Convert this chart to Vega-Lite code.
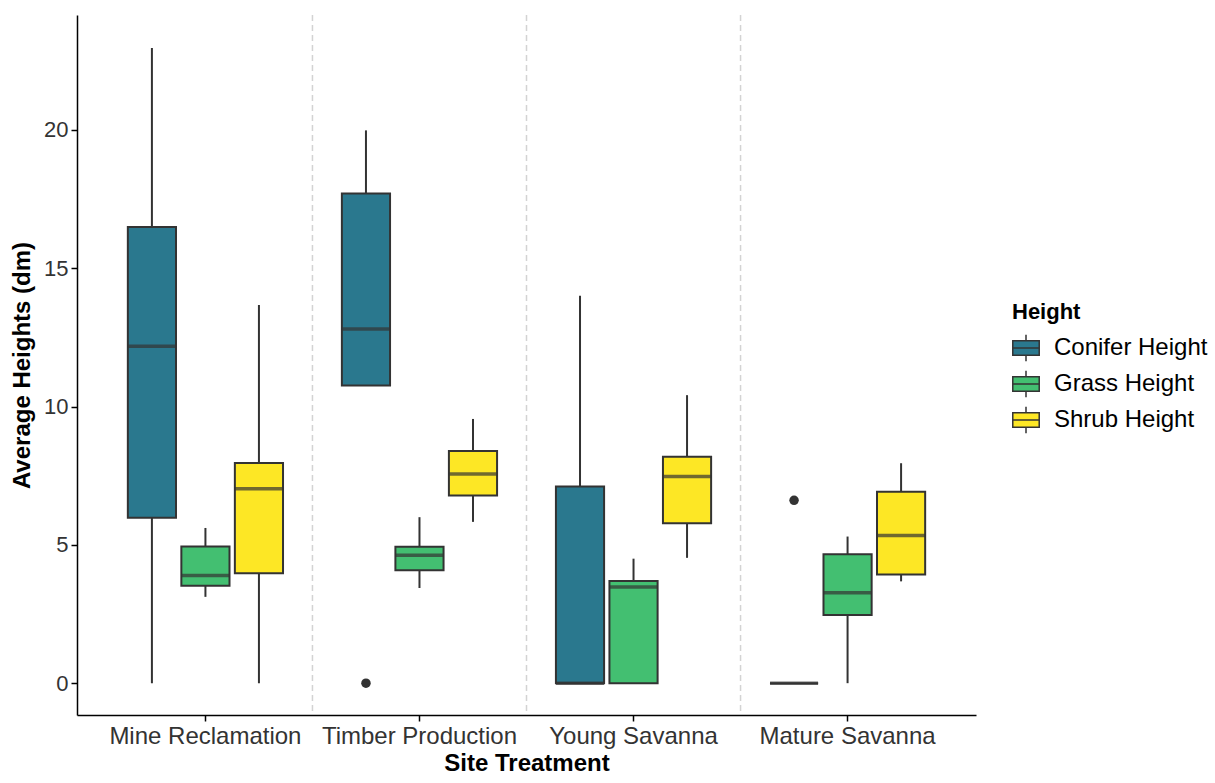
{
  "$schema": "https://vega.github.io/schema/vega-lite/v6.json",
  "width": 899,
  "height": 700,
  "autosize": {"type": "none"},
  "padding": {"left": 77, "top": 15, "right": 239, "bottom": 68},
  "config": {"view": {"stroke": null}, "font": "Liberation Sans"},
  "datasets": {
    "boxes": [
      {"site": "Mine Reclamation", "type": "Conifer Height", "lo": 0, "q1": 5.98, "med": 12.18, "q3": 16.49, "hi": 22.96},
      {"site": "Mine Reclamation", "type": "Grass Height", "lo": 3.12, "q1": 3.52, "med": 3.89, "q3": 4.94, "hi": 5.61},
      {"site": "Mine Reclamation", "type": "Shrub Height", "lo": 0, "q1": 3.97, "med": 7.03, "q3": 7.96, "hi": 13.67},
      {"site": "Timber Production", "type": "Conifer Height", "lo": 10.76, "q1": 10.76, "med": 12.8, "q3": 17.7, "hi": 19.98},
      {"site": "Timber Production", "type": "Grass Height", "lo": 3.44, "q1": 4.08, "med": 4.62, "q3": 4.93, "hi": 6.0},
      {"site": "Timber Production", "type": "Shrub Height", "lo": 5.83, "q1": 6.78, "med": 7.56, "q3": 8.39, "hi": 9.55},
      {"site": "Young Savanna", "type": "Conifer Height", "lo": 0, "q1": 0, "med": 0, "q3": 7.11, "hi": 14.0},
      {"site": "Young Savanna", "type": "Grass Height", "lo": 0, "q1": 0, "med": 3.48, "q3": 3.69, "hi": 4.5},
      {"site": "Young Savanna", "type": "Shrub Height", "lo": 4.53, "q1": 5.78, "med": 7.47, "q3": 8.18, "hi": 10.41},
      {"site": "Mature Savanna", "type": "Conifer Height", "lo": 0, "q1": 0, "med": 0, "q3": 0, "hi": 0},
      {"site": "Mature Savanna", "type": "Grass Height", "lo": 0, "q1": 2.46, "med": 3.27, "q3": 4.66, "hi": 5.3},
      {"site": "Mature Savanna", "type": "Shrub Height", "lo": 3.68, "q1": 3.93, "med": 5.34, "q3": 6.92, "hi": 7.95}
    ],
    "outliers": [
      {"site": "Timber Production", "type": "Conifer Height", "value": 0},
      {"site": "Mature Savanna", "type": "Conifer Height", "value": 6.61}
    ],
    "separators": [
      {"site": "Timber Production"},
      {"site": "Young Savanna"},
      {"site": "Mature Savanna"}
    ]
  },
  "encoding": {
    "x": {
      "field": "site",
      "type": "nominal",
      "scale": {"domain": ["Mine Reclamation", "Timber Production", "Young Savanna", "Mature Savanna"], "paddingInner": 0, "paddingOuter": 0.1},
      "axis": {
        "title": "Site Treatment",
        "titleFontSize": 24,
        "titleFontWeight": "bold",
        "titleColor": "black",
        "titlePadding": 3,
        "labelFontSize": 24,
        "labelColor": "#333333",
        "labelAngle": 0,
        "labelPadding": 3,
        "labelLimit": 400,
        "domainColor": "black",
        "domainWidth": 1.5,
        "tickColor": "black",
        "tickWidth": 1.5,
        "tickSize": 6
      }
    }
  },
  "layer": [
    {
      "data": {"name": "separators"},
      "mark": {"type": "rule", "strokeDash": [6, 4], "color": "#D3D3D3", "strokeWidth": 1.5},
      "encoding": {
        "x": {"field": "site", "type": "nominal", "bandPosition": 0}
      }
    },
    {
      "data": {"name": "boxes"},
      "mark": {"type": "rule", "color": "#333333", "strokeWidth": 2},
      "encoding": {
        "xOffset": {"field": "type", "type": "nominal", "scale": {"paddingInner": 0.1, "paddingOuter": 0.55}},
        "y": {
          "field": "lo",
          "type": "quantitative",
          "scale": {"domain": [-1.15, 24.15], "nice": false, "zero": false},
          "axis": {
            "title": "Average Heights (dm)",
            "titleFontSize": 24,
            "titleFontWeight": "bold",
            "titleColor": "black",
            "labelFontSize": 22,
            "labelColor": "#333333",
            "values": [0, 5, 10, 15, 20],
            "grid": false,
            "domainColor": "black",
            "domainWidth": 1.5,
            "tickColor": "black",
            "tickWidth": 1.5,
            "tickSize": 6,
            "labelPadding": 3,
            "titlePadding": 9
          }
        },
        "y2": {"field": "hi"}
      }
    },
    {
      "data": {"name": "boxes"},
      "mark": {"type": "bar", "stroke": "#333333", "strokeWidth": 2},
      "encoding": {
        "xOffset": {"field": "type", "type": "nominal"},
        "y": {"field": "q1", "type": "quantitative"},
        "y2": {"field": "q3"},
        "fill": {
          "field": "type",
          "type": "nominal",
          "scale": {"range": ["#2A788E", "#43BF71", "#FDE725"]},
          "legend": {
            "title": "Height",
            "orient": "none",
            "legendX": 935,
            "legendY": 287,
            "titleFontSize": 22,
            "titleFontWeight": "bold",
            "titleColor": "black",
            "titlePadding": 10,
            "labelFontSize": 24,
            "labelColor": "black",
            "labelOffset": 14,
            "labelLimit": 300,
            "rowPadding": 2,
            "symbolType": "M-1,-0.55H1V0.55H-1Z M-1,0H1 M0,-0.55V-1 M0,0.55V1",
            "symbolSize": 700,
            "symbolStrokeColor": "#333333",
            "symbolStrokeWidth": 1.5,
            "symbolOffset": 0
          }
        }
      }
    },
    {
      "data": {"name": "boxes"},
      "mark": {"type": "tick", "color": "#333333", "thickness": 3.5, "size": 48},
      "encoding": {
        "xOffset": {"field": "type", "type": "nominal"},
        "y": {"field": "med", "type": "quantitative"}
      }
    },
    {
      "data": {"name": "outliers"},
      "mark": {"type": "point", "filled": true, "color": "#333333", "size": 90, "opacity": 1},
      "encoding": {
        "xOffset": {"field": "type", "type": "nominal"},
        "y": {"field": "value", "type": "quantitative"}
      }
    }
  ]
}
